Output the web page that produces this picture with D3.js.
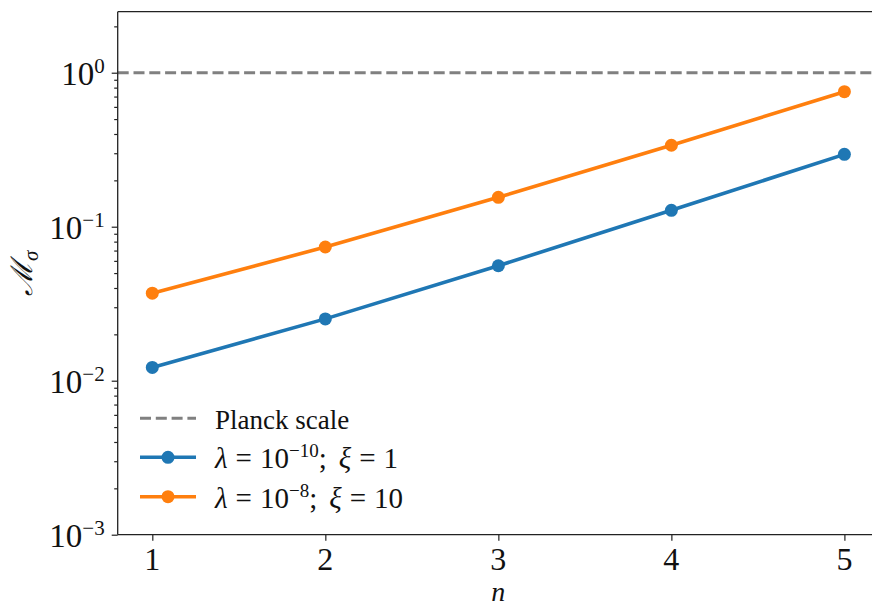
<!DOCTYPE html>
<html>
<head>
<meta charset="utf-8">
<script src="https://cdn.jsdelivr.net/npm/d3@7"></script>
<style>
    body { margin: 0; background: #fff; }
    svg { display: block; }
    text { font-family: "Liberation Serif", "Times New Roman", "DejaVu Serif", serif; }
</style>
</head>
<body>
<div id="wrapper"></div>
<script>
// data
const nValues = [1, 2, 3, 4, 5]
const seriesLow = [0.0122, 0.0252, 0.0558, 0.1278, 0.295]   // lambda = 1e-10, xi = 1
const seriesHigh = [0.0370, 0.0738, 0.1552, 0.338, 0.753]   // lambda = 1e-8, xi = 10
const planckValue = 1
const xTicks = [1, 2, 3, 4, 5]
const yTicks = [1e-3, 1e-2, 1e-1, 1e0]
const yTickExps = ["−3", "−2", "−1", "0"]
const seriesNames = [
    { base: "10", exp: "−10", xi: "1" },
    { base: "10", exp: "−8", xi: "10" },
]
const colors = ["#1f77b4", "#ff7f0e"]

function draw() {
    const dimensions = {
        width: 872,
        height: 606,
        left: 117.7,
        right: 879,
        top: 11.7,
        bottom: 534.7,
    }
    const spineColor = "#222"
    const textColor = "#111"

    const svg = d3.select("#wrapper").append("svg")
        .attr("width", dimensions.width)
        .attr("height", dimensions.height)

    const x = d3.scaleLinear().domain([0.8, 5.2]).range([dimensions.left, dimensions.right])
    const y = d3.scaleLog().domain([1e-3, 2.49]).range([dimensions.bottom, dimensions.top])

    // y axis ticks (major + minor)
    const minor = y.ticks().filter(v => Math.abs(Math.log10(v) - Math.round(Math.log10(v))) > 1e-6)
    const yMinorAxis = d3.axisLeft(y).tickValues(minor).tickSize(3.5).tickFormat("")
    const yMajorAxis = d3.axisLeft(y).tickValues(yTicks).tickSize(6).tickFormat("")
    svg.append("g").attr("transform", `translate(${dimensions.left},0)`).call(yMinorAxis)
    svg.append("g").attr("transform", `translate(${dimensions.left},0)`).call(yMajorAxis)
    const xAxis = d3.axisBottom(x).tickValues(xTicks).tickSize(6).tickFormat("")
    svg.append("g").attr("transform", `translate(0,${dimensions.bottom})`).call(xAxis)
    svg.selectAll(".domain").remove()
    svg.selectAll(".tick line").attr("stroke", spineColor).attr("stroke-width", 1.2)

    // y tick labels 10^k
    yTicks.forEach((v, i) => {
        const t = svg.append("text")
            .attr("x", dimensions.left - 13)
            .attr("y", y(v) + 12)
            .attr("text-anchor", "end")
            .attr("font-size", 33)
            .attr("fill", textColor)
        t.append("tspan").text("10")
        t.append("tspan").attr("dy", -12).attr("font-size", 21).text(yTickExps[i])
    })

    // x tick labels
    svg.selectAll(".xlabel").data(xTicks).enter()
        .append("text")
        .attr("x", d => x(d))
        .attr("y", 569.5)
        .attr("text-anchor", "middle")
        .attr("font-size", 32)
        .attr("fill", textColor)
        .text(d => d)

    // axis titles
    svg.append("text")
        .attr("x", (dimensions.left + dimensions.right) / 2)
        .attr("y", 601)
        .attr("text-anchor", "middle")
        .attr("font-style", "italic")
        .attr("font-size", 28)
        .attr("fill", textColor)
        .text("n")

    const ylab = svg.append("text")
        .attr("transform", `translate(32,${(dimensions.top + dimensions.bottom) / 2}) rotate(-90)`)
        .attr("text-anchor", "middle")
        .attr("font-size", 30)
        .attr("fill", textColor)
    ylab.append("tspan").style("font-family", "'DejaVu Serif', serif").attr("font-style", "italic").text("ℳ")
    ylab.append("tspan").attr("dy", 6).attr("font-size", 21).attr("font-style", "italic").text("σ")

    // planck line
    svg.append("line")
        .attr("x1", x(0.8)).attr("x2", x(5.2))
        .attr("y1", y(planckValue)).attr("y2", y(planckValue))
        .attr("stroke", "#808080")
        .attr("stroke-width", 3)
        .attr("stroke-dasharray", "11,4.8")

    // series
    const line = d3.line().x(d => x(d[0])).y(d => y(d[1]))
    ;[seriesLow, seriesHigh].forEach((s, i) => {
        const pts = nValues.map((n, j) => [n, s[j]])
        svg.append("path")
            .attr("d", line(pts))
            .attr("fill", "none")
            .attr("stroke", colors[i])
            .attr("stroke-width", 3.6)
        svg.selectAll(".dot" + i).data(pts).enter()
            .append("circle")
            .attr("cx", d => x(d[0]))
            .attr("cy", d => y(d[1]))
            .attr("r", 6.5)
            .attr("fill", colors[i])
    })

    // spines
    svg.append("line").attr("x1", dimensions.left).attr("x2", dimensions.left)
        .attr("y1", dimensions.top).attr("y2", dimensions.bottom)
        .attr("stroke", spineColor).attr("stroke-width", 1.3)
    svg.append("line").attr("x1", dimensions.left).attr("x2", dimensions.width)
        .attr("y1", dimensions.top).attr("y2", dimensions.top)
        .attr("stroke", spineColor).attr("stroke-width", 1.3)
    svg.append("line").attr("x1", dimensions.left).attr("x2", dimensions.width)
        .attr("y1", dimensions.bottom).attr("y2", dimensions.bottom)
        .attr("stroke", spineColor).attr("stroke-width", 1.3)

    // legend
    const legend = svg.append("g")
    legend.append("line")
        .attr("x1", 140).attr("x2", 196).attr("y1", 418.3).attr("y2", 418.3)
        .attr("stroke", "#808080").attr("stroke-width", 3).attr("stroke-dasharray", "11,4.8")
    legend.append("text")
        .attr("x", 215).attr("y", 428.7)
        .attr("font-size", 27).attr("fill", textColor)
        .text("Planck scale")

    seriesNames.forEach((s, i) => {
        const cy = 457.3 + i * 39.4
        legend.append("line")
            .attr("x1", 140).attr("x2", 196).attr("y1", cy).attr("y2", cy)
            .attr("stroke", colors[i]).attr("stroke-width", 3.6)
        legend.append("circle").attr("cx", 168).attr("cy", cy).attr("r", 6.5).attr("fill", colors[i])
        const t = legend.append("text")
            .attr("x", 215).attr("y", cy + 11)
            .attr("font-size", 29).attr("fill", textColor)
        t.append("tspan").attr("font-style", "italic").text("λ")
        t.append("tspan").attr("dx", 8).text("=")
        t.append("tspan").attr("dx", 8).text(s.base)
        t.append("tspan").attr("dy", -11).attr("font-size", 19).text(s.exp)
        t.append("tspan").attr("dy", 11).text(";")
        t.append("tspan").attr("dx", 12).attr("font-style", "italic").text("ξ")
        t.append("tspan").attr("dx", 8).text("=")
        t.append("tspan").attr("dx", 8).text(s.xi)
    })
}

draw()
</script>
</body>
</html>
